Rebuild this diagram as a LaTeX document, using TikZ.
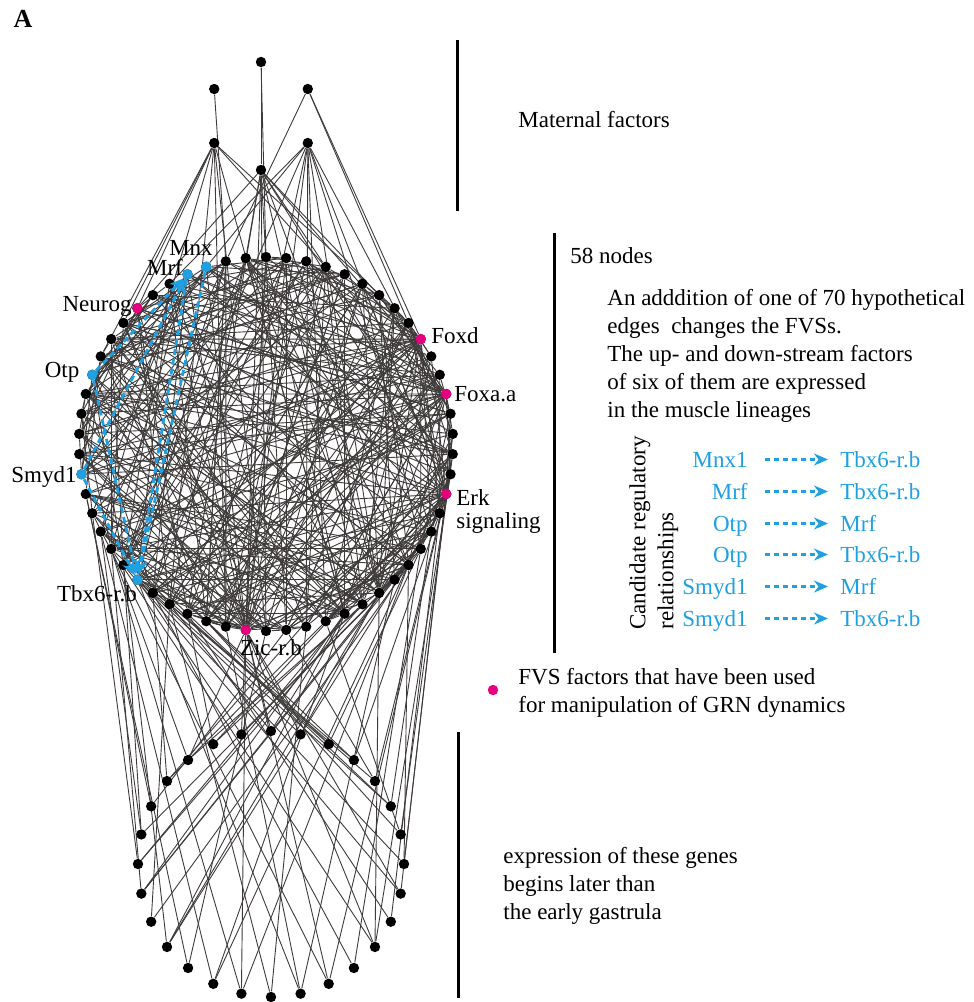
\documentclass[tikz,border=0pt]{standalone}
\usepackage{fontspec}
\setmainfont{Liberation Serif}
\usetikzlibrary{
  arrows.meta,
  positioning,
  backgrounds
}
\definecolor{fvsred}{RGB}{228,0,127}
\definecolor{candblue}{RGB}{30,160,226}
\definecolor{edgegray}{RGB}{62,58,58}

\begin{document}
\begin{tikzpicture}[
  x=0.5pt,y=-0.5pt,
  dot/.style={circle,fill=black,inner sep=0pt,minimum size=5.2pt},
  e/.style={draw=edgegray,line width=0.45pt},
  cand/.style={draw=candblue,line width=1.4pt,dash pattern=on 3pt off 2pt,-{Stealth[length=7pt,width=6.5pt]}},
  lab/.style={font=\fontsize{11.5}{14}\selectfont,inner sep=0pt},
  blk/.style={lab,align=left,anchor=north west},
  rel/.style={lab,text=candblue,text height=7.5pt,text depth=0pt},
  legarrow/.style={draw=candblue,line width=1.1pt,dash pattern=on 2.5pt off 2pt,-{Stealth[length=7pt,width=6pt]},shorten <=8.5pt,shorten >=6pt},
  bar/.style={line width=1.5pt}
]
\useasboundingbox (0,0) rectangle (974,1002);

% maternal factors
\foreach \i in {1,...,6}
  \node[dot] (m\i) at ({261+54*cos(30+60*\i)},{116-54*sin(30+60*\i)}) {};
% 58 nodes
\foreach \i in {1,...,58}
  \node[dot] (c\i) at ({266+187*cos(90+6.206897*(\i+2))},{444-187*sin(90+6.206897*(\i+2))}) {};
% genes expressed later
\foreach \i in {1,...,28}
  \node[dot] (b\i) at ({271+133*cos(90-12.857143*(\i-1))},{864-133*sin(90-12.857143*(\i-1))}) {};

\begin{scope}[on background layer]
  \pgfmathsetseed{1958}
  \foreach \i in {1,...,58}{
    \foreach \k in {1,...,5}{
      \pgfmathtruncatemacro\j{random(1,58)}
      \ifnum\j=\i\else\draw[e] (c\i) -- (c\j);\fi
    }
  }
  % hubs
  \foreach \s/\tl in {47/{3,7,8,10,12,15,18,21,24,28,31,33,36,52,55,58},
                      44/{2,4,6,10,11,14,17,22,25,29,32,35,50,53,56},
                      39/{5,8,10,13,16,18,23,27,30,33,46,49,51,54,57},
                      26/{1,3,6,8,11,17,29,32,35,41,45,48,50,53,56},
                      10/{33,36,41,42,45},
                      7/{30,35,40,48}}
    \foreach \t in \tl \draw[e] (c\s) -- (c\t);
  % maternal edges
  \draw[e] (m1) -- (m4);
  \draw[e] (m1) -- (c56);
  \draw[e] (m2) -- (c58);
  \foreach \t in {58,48,47} \draw[e] (m6) -- (c\t);
  \foreach \t in {6,8,12,17,22,25,27,53,49,31} \draw[e] (m3) -- (c\t);
  \foreach \t in {1,3,19,24,26,29,30,33,37,43,51} \draw[e] (m5) -- (c\t);
  \foreach \t in {57,27,26,23,28,32,35,40,45,50,53,5} \draw[e] (m4) -- (c\t);
  % later genes to the 58 nodes
  \foreach \a/\b in {1/26,1/31,1/22,2/20,2/33,2/26,3/18,3/36,3/24,4/22,4/38,4/16,
                     5/19,5/40,5/28,6/21,6/37,6/17,7/24,7/41,7/30,8/39,8/35,8/20,
                     9/19,9/42,9/26,10/23,10/38,11/18,11/40,11/26,11/33,12/21,12/36,
                     13/26,13/16,13/39,14/25,14/34,14/20,15/29,15/22,16/26,16/35,16/18,
                     17/31,17/17,17/40,18/27,18/15,19/33,19/19,19/38,19/31,20/36,20/22,
                     21/34,21/18,21/31,21/37,22/16,22/32,22/39,23/35,23/19,23/17,
                     24/15,24/28,25/30,25/21,25/41,26/18,26/35,26/26,27/23,27/32,27/39,
                     28/26,28/20,28/34}
    \draw[e] (b\a) -- (c\b);
\end{scope}

% candidate regulatory relationships
\draw[cand] (c1) -- (c20);
\draw[cand] (c2) -- (c20);
\draw[cand] (c9) -- (c2);
\draw[cand] (c9) -- (c20);
\draw[cand] (c14) -- (c2);
\draw[cand] (c14) -- (c20);

\foreach \i in {5,26,39,44,47} \fill[fvsred] (c\i) circle (2.6pt);
\foreach \i in {1,2,9,14,20} \fill[candblue] (c\i) circle (2.6pt);

% node labels
\node[lab,anchor=base] (lmnx) at (191,255) {Mnx};
\node[lab,anchor=base] (lmrf) at (165,275) {Mrf};
\node[lab,anchor=base east] (lneurog) at (132,311) {Neurog};
\node[lab,anchor=base] (lotp) at (62,377) {Otp};
\node[lab,anchor=base] (lsmyd) at (44,482) {Smyd1};
\node[lab,anchor=base] (ltbx) at (97,601) {Tbx6-r.b};
\node[lab,anchor=base] (lzic) at (271,655) {Zic-r.b};
\node[lab,anchor=base west] (lfoxd) at (431,343) {Foxd};
\node[lab,anchor=base west] (lfoxa) at (454,401) {Foxa.a};
\node[blk,font=\fontsize{11.5}{11.5}\selectfont] (lerk) at (456,489) {Erk\\signaling};

% panel texts
\node[lab,anchor=base,font=\fontsize{13}{15}\selectfont\bfseries] (panel) at (23,27) {A};
\draw[bar] (457,40) -- (457,211);
\draw[bar] (554,233) -- (554,653);
\draw[bar] (458,732) -- (458,998);
\node[lab,anchor=base west] (mat) at (518,127) {Maternal factors};
\node[lab,anchor=base west] (nodes58) at (570,263) {58 nodes};
\node[blk] (hyp) at (607,289) {An adddition of one of 70 hypothetical\\edges\ \ changes the FVSs.\\The up- and down-stream factors\\of six of them are expressed\\in the muscle lineages};
\node[lab,rotate=90,align=left,anchor=north west] (cand) at (629,630) {Candidate regulatory\\relationships};

\foreach \k/\src/\dst/\yy in {1/Mnx1/Tbx6-r.b/467,2/Mrf/Tbx6-r.b/499,3/Otp/Mrf/531,
                              4/Otp/Tbx6-r.b/562,5/Smyd1/Mrf/594,6/Smyd1/Tbx6-r.b/626}{
  \node[rel,anchor=base east] (src\k) at (748,\yy) {\src};
  \node[rel,anchor=base west] (dst\k) at (840,\yy) {\dst};
  \draw[legarrow] (src\k.east) -- (dst\k.west);
}

\node[dot,fill=fvsred] (legdot) at (493,690) {};
\node[blk] (fvs) at (518,668) {FVS factors that have been used\\for manipulation of GRN dynamics};
\node[blk] (later) at (503,847) {expression of these genes\\begins later than\\the early gastrula};
\end{tikzpicture}
\end{document}
